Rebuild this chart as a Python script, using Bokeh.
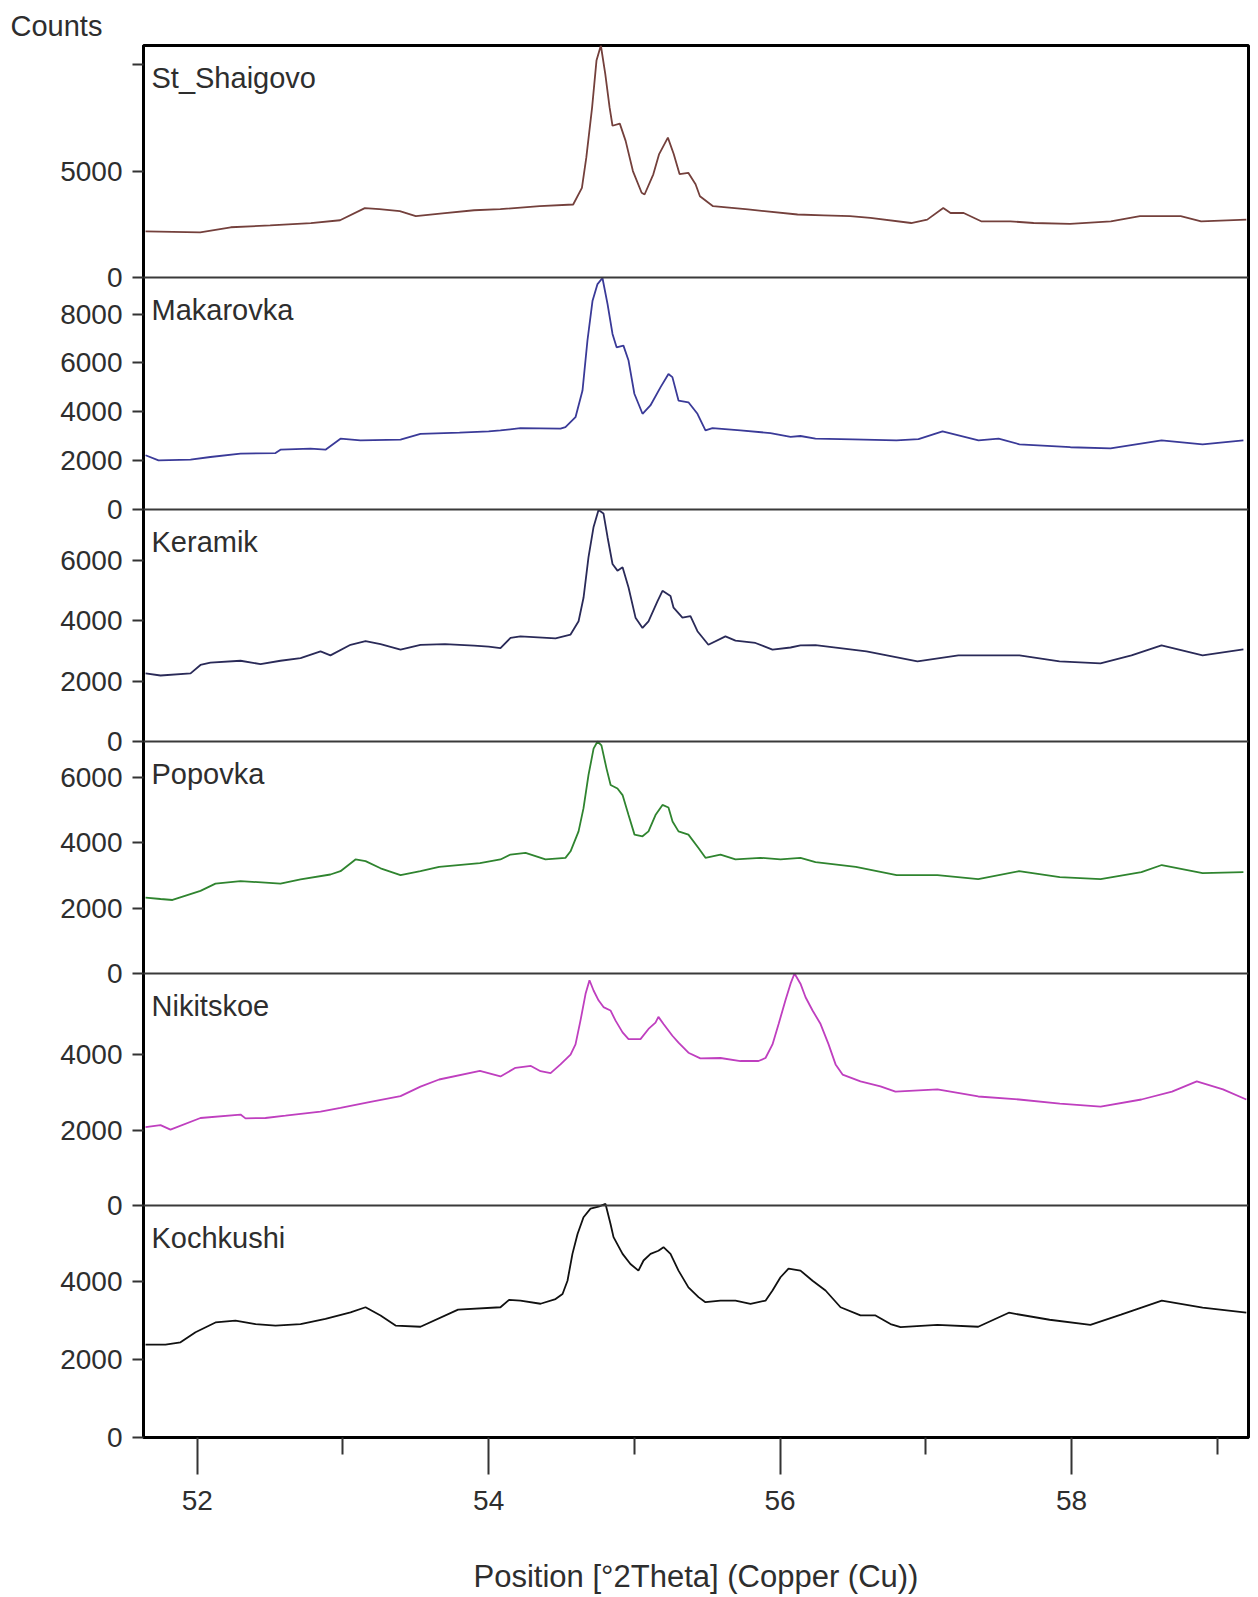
from bokeh.plotting import figure
from bokeh.models import Range1d, FixedTicker, Span, Label
from bokeh.embed import file_html
from bokeh.resources import INLINE

# ---------------- data ----------------
names = ["St_Shaigovo", "Makarovka", "Keramik", "Popovka", "Nikitskoe", "Kochkushi"]
colors = ["#74403c", "#3a3a98", "#2a2a58", "#2f842f", "#bf3fbf", "#111111"]
panel_tops = [10900, 9500, 7700, 7100, 6150, 5950]
panel_ticks = [[0, 5000, 10000], [0, 2000, 4000, 6000, 8000], [0, 2000, 4000, 6000],
               [0, 2000, 4000, 6000], [0, 2000, 4000], [0, 2000, 4000]]
unlabeled_ticks = [(0, 10000)]
x_major_ticks = [52, 54, 56, 58]
x_minor_ticks = [53, 55, 57, 59]
x_axis_title = "Position [°2Theta] (Copper (Cu))"
y_axis_title = "Counts"

shaigovo_x = [51.645, 52.02, 52.23, 52.50, 52.78, 52.98, 53.15, 53.25, 53.39, 53.50, 53.70, 53.90, 54.08,
              54.35, 54.58, 54.64, 54.67, 54.71, 54.74, 54.77, 54.80, 54.83, 54.85, 54.90, 54.94, 54.99,
              55.05, 55.07, 55.13, 55.17, 55.23, 55.27, 55.31, 55.37, 55.42, 55.45, 55.54, 55.78, 56.12,
              56.30, 56.48, 56.62, 56.90, 57.01, 57.12, 57.17, 57.26, 57.38, 57.58, 57.74, 57.99, 58.27,
              58.47, 58.75, 58.89, 59.20]
shaigovo_y = [2170, 2120, 2360, 2450, 2550, 2690, 3260, 3210, 3120, 2880, 3020, 3160, 3210,
              3350, 3430, 4210, 5630, 7990, 10190, 10900, 9580, 7990, 7130, 7230, 6420, 5000,
              3980, 3900, 4850, 5800, 6570, 5800, 4860, 4920, 4380, 3820, 3350, 3200, 2960,
              2920, 2880, 2800, 2560, 2720, 3270, 3030, 3030, 2640, 2640, 2560, 2520, 2640,
              2880, 2880, 2640, 2720]

makarovka_x = [51.645, 51.734, 51.954, 52.09, 52.297, 52.537, 52.571, 52.777, 52.88, 52.983, 53.12,
               53.395, 53.532, 53.8, 54.0, 54.081, 54.218, 54.493, 54.527, 54.596, 54.644, 54.678,
               54.713, 54.747, 54.781, 54.816, 54.85, 54.878, 54.925, 54.96, 55.0, 55.056, 55.11,
               55.18, 55.234, 55.261, 55.303, 55.371, 55.433, 55.488, 55.536, 55.728, 55.934, 56.072,
               56.14, 56.243, 56.5, 56.799, 56.95, 57.115, 57.362, 57.5, 57.643, 57.993, 58.268,
               58.618, 58.9, 59.18]
makarovka_y = [2220, 2010, 2040, 2150, 2290, 2310, 2450, 2490, 2450, 2900, 2830,
               2860, 3100, 3150, 3200, 3240, 3330, 3310, 3370, 3780, 4870, 6920,
               8550, 9230, 9480, 8410, 7190, 6640, 6710, 6100, 4740, 3920, 4260,
               5010, 5550, 5420, 4460, 4390, 3920, 3240, 3330, 3240, 3130, 2970,
               3010, 2900, 2870, 2830, 2880, 3200, 2830, 2900, 2670, 2550, 2500,
               2830, 2670, 2830]

keramik_x = [51.645, 51.748, 51.954, 52.022, 52.09, 52.297, 52.434, 52.571, 52.709, 52.846, 52.914,
             53.052, 53.155, 53.258, 53.395, 53.532, 53.7, 53.9, 54.0, 54.081, 54.15, 54.218, 54.459,
             54.562, 54.617, 54.651, 54.685, 54.72, 54.754, 54.788, 54.816, 54.85, 54.884, 54.919,
             54.96, 55.008, 55.056, 55.097, 55.159, 55.193, 55.248, 55.269, 55.33, 55.385, 55.433,
             55.508, 55.625, 55.694, 55.831, 55.948, 56.072, 56.14, 56.243, 56.593, 56.943, 57.224,
             57.643, 57.918, 58.199, 58.412, 58.618, 58.9, 59.18]
keramik_y = [2260, 2190, 2260, 2540, 2620, 2680, 2570, 2680, 2770, 2990, 2860,
             3210, 3330, 3230, 3050, 3210, 3230, 3180, 3150, 3100, 3440, 3490, 3420,
             3550, 3990, 4770, 6110, 7120, 7680, 7570, 6780, 5890, 5670, 5780,
             5110, 4110, 3770, 3990, 4660, 5000, 4830, 4440, 4110, 4160, 3660,
             3210, 3490, 3350, 3270, 3050, 3120, 3190, 3200, 2990, 2660, 2860,
             2860, 2660, 2590, 2860, 3190, 2860, 3060]

popovka_x = [51.645, 51.748, 51.83, 52.022, 52.125, 52.297, 52.468, 52.571, 52.709, 52.914, 52.983,
             53.086, 53.155, 53.258, 53.395, 53.532, 53.66, 53.94, 54.081, 54.15, 54.253, 54.39,
             54.527, 54.562, 54.617, 54.651, 54.685, 54.72, 54.747, 54.774, 54.809, 54.837, 54.884,
             54.919, 54.96, 55.001, 55.056, 55.097, 55.145, 55.193, 55.234, 55.262, 55.303, 55.371,
             55.44, 55.488, 55.591, 55.694, 55.865, 56.003, 56.14, 56.243, 56.52, 56.8, 57.08, 57.36,
             57.64, 57.92, 58.2, 58.48, 58.62, 58.9, 59.18]
popovka_y = [2320, 2280, 2250, 2530, 2750, 2830, 2780, 2750, 2880, 3030, 3130,
             3490, 3440, 3220, 3010, 3130, 3260, 3380, 3490, 3640, 3690, 3490,
             3540, 3740, 4350, 5060, 6070, 6880, 7100, 6980, 6270, 5770, 5660,
             5460, 4850, 4250, 4200, 4350, 4850, 5160, 5080, 4650, 4350, 4250,
             3840, 3540, 3640, 3490, 3540, 3490, 3540, 3410, 3260, 3010, 3010, 2890,
             3130, 2950, 2890, 3100, 3320, 3070, 3100]

nikitskoe_x = [51.645, 51.748, 51.816, 52.022, 52.297, 52.331, 52.468, 52.605, 52.846, 52.983, 53.189,
               53.395, 53.532, 53.66, 53.94, 54.081, 54.184, 54.29, 54.356, 54.425, 54.493, 54.562,
               54.596, 54.63, 54.665, 54.692, 54.72, 54.754, 54.788, 54.836, 54.871, 54.919, 54.96,
               55.042, 55.097, 55.145, 55.165, 55.2, 55.261, 55.303, 55.371, 55.453, 55.591, 55.728,
               55.852, 55.9, 55.948, 55.99, 56.037, 56.072, 56.099, 56.14, 56.175, 56.223, 56.278,
               56.333, 56.381, 56.429, 56.552, 56.689, 56.792, 57.08, 57.36, 57.64, 57.92, 58.2,
               58.48, 58.69, 58.86, 59.04, 59.2]
nikitskoe_y = [2080, 2130, 2010, 2320, 2410, 2310, 2320, 2380, 2490, 2590, 2750,
               2900, 3150, 3340, 3570, 3420, 3650, 3700, 3560, 3510, 3740, 4000,
               4270, 4900, 5610, 5970, 5700, 5440, 5260, 5170, 4900, 4590, 4410,
               4410, 4680, 4850, 5000, 4810, 4500, 4320, 4050, 3900, 3910, 3830,
               3830, 3910, 4270, 4810, 5440, 5880, 6150, 5880, 5520, 5170, 4810,
               4270, 3740, 3470, 3290, 3160, 3020, 3080, 2890, 2810, 2700, 2620,
               2810, 3020, 3290, 3080, 2810]

kochkushi_x = [51.645, 51.782, 51.885, 51.988, 52.125, 52.262, 52.4, 52.537, 52.709, 52.88, 53.052,
               53.155, 53.258, 53.361, 53.532, 53.79, 54.081, 54.14, 54.218, 54.356, 54.459, 54.507,
               54.541, 54.575, 54.61, 54.651, 54.699, 54.754, 54.802, 54.836, 54.857, 54.919, 54.973,
               55.028, 55.063, 55.111, 55.165, 55.2, 55.248, 55.303, 55.371, 55.44, 55.488, 55.591,
               55.694, 55.797, 55.9, 55.948, 56.003, 56.058, 56.14, 56.223, 56.312, 56.415, 56.552,
               56.655, 56.758, 56.827, 57.08, 57.36, 57.57, 57.85, 58.13, 58.34, 58.62, 58.9, 59.2]
kochkushi_y = [2380, 2380, 2440, 2700, 2950, 3000, 2910, 2870, 2910, 3040, 3210,
               3340, 3130, 2870, 2840, 3280, 3340, 3530, 3510, 3430, 3550, 3680,
               4020, 4710, 5220, 5650, 5870, 5920, 5990, 5480, 5140, 4710, 4450,
               4280, 4540, 4710, 4790, 4880, 4710, 4280, 3850, 3600, 3470, 3510,
               3510, 3430, 3510, 3770, 4110, 4330, 4280, 4020, 3770, 3340, 3130,
               3130, 2910, 2830, 2890, 2840, 3200, 3020, 2890, 3150, 3510, 3330, 3200]

series_x = [shaigovo_x, makarovka_x, keramik_x, popovka_x, nikitskoe_x, kochkushi_x]
series_y = [shaigovo_y, makarovka_y, keramik_y, popovka_y, nikitskoe_y, kochkushi_y]

# ---------------- layout / styling ----------------
X_START, X_END = 51.631, 59.215
N = len(names)
FONT = "Liberation Sans"
TXT = "#2e2e2e"

p = figure(width=1258, height=1597, output_backend="svg", toolbar_location=None,
           x_range=Range1d(X_START, X_END), y_range=Range1d(0, N),
           min_border_left=143, min_border_right=10, min_border_top=45, min_border_bottom=160)
p.xgrid.visible = False
p.ygrid.visible = False
p.background_fill_color = "white"
p.border_fill_color = "white"
p.outline_line_color = "black"
p.outline_line_width = 3

# "Counts" as a left-shifted title
p.title.text = y_axis_title
p.title.align = "left"
p.title.offset = -133
p.title.standoff = 4
p.title.vertical_align = "top"
p.title.text_font = FONT
p.title.text_font_size = "29px"
p.title.text_font_style = "normal"
p.title.text_color = TXT

# each panel gets its own y scale; panel i (from top) occupies slot [N-1-i, N-i]
for i, top in enumerate(panel_tops):
    slot = N - 1 - i
    p.extra_y_ranges[f"p{i}"] = Range1d(-slot * top, (N - slot) * top)

for i in range(N):
    p.line(series_x[i], series_y[i], y_range_name=f"p{i}",
           line_color=colors[i], line_width=1.8)

# separators between panels
for k in range(1, N):
    p.add_layout(Span(location=k, dimension="width", line_color="#3a3a3a", line_width=2))

# y axis: ticks of every panel placed in slot units
tick_pos = []
overrides = {}
for i, (top, tks) in enumerate(zip(panel_tops, panel_ticks)):
    slot = N - 1 - i
    for v in tks:
        u = round(slot + v / top, 6)
        tick_pos.append(u)
        overrides[u] = "" if (i, v) in unlabeled_ticks else str(v)

yax = p.yaxis[0]
yax.ticker = FixedTicker(ticks=tick_pos)
yax.major_label_overrides = overrides
yax.major_tick_out = 11
yax.major_tick_in = 0
yax.major_tick_line_width = 2
yax.major_tick_line_color = "#333333"
yax.minor_tick_line_color = None
yax.axis_line_color = "black"
yax.axis_line_width = 3
yax.major_label_standoff = 10
yax.major_label_text_font = FONT
yax.major_label_text_font_size = "28px"
yax.major_label_text_color = TXT

xax = p.xaxis[0]
xax.ticker = FixedTicker(ticks=x_major_ticks, minor_ticks=x_minor_ticks)
xax.major_tick_out = 37
xax.major_tick_in = 0
xax.minor_tick_out = 17
xax.minor_tick_in = 0
xax.major_tick_line_width = 2
xax.minor_tick_line_width = 2
xax.major_tick_line_color = "#333333"
xax.minor_tick_line_color = "#333333"
xax.axis_line_color = "black"
xax.axis_line_width = 3
xax.major_label_standoff = 16
xax.major_label_text_font = FONT
xax.major_label_text_font_size = "28px"
xax.major_label_text_color = TXT
xax.axis_label = x_axis_title
xax.axis_label_standoff = 46
xax.axis_label_text_font = FONT
xax.axis_label_text_font_size = "31px"
xax.axis_label_text_font_style = "normal"
xax.axis_label_text_color = TXT

# panel names
for i, name in enumerate(names):
    p.add_layout(Label(x=X_START, y=N - i, x_offset=8, y_offset=-32, text=name,
                       text_font=FONT, text_font_size="29px", text_color=TXT,
                       text_baseline="alphabetic", text_align="left"))

open("out.html", "w").write(file_html(p, INLINE))
